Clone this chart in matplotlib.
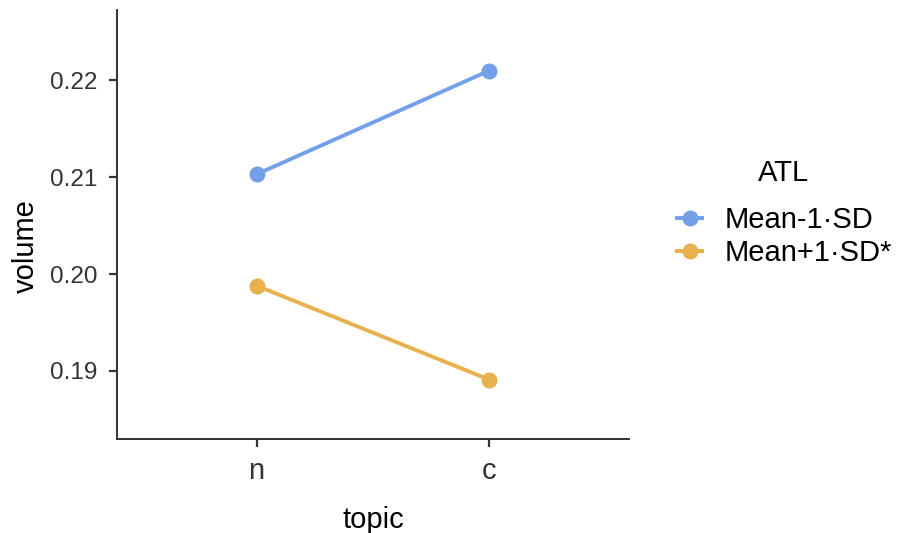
import matplotlib
matplotlib.use('Agg')
import matplotlib.pyplot as plt

# data
topics = ['n', 'c']
groups = ['Mean-1·SD', 'Mean+1·SD*']
lowATL = [0.2103, 0.2210]
highATL = [0.1988, 0.1891]
colors = ['#74A0EA', '#E9B04E']
yTicks = [0.19, 0.20, 0.21, 0.22]

plt.rcParams['font.family'] = ['Liberation Sans', 'DejaVu Sans']

fig = plt.figure(figsize=(9.02, 5.33), dpi=100)
ax = fig.add_axes([117/902, 1 - 439/533, (629 - 117)/902, (439 - 10)/533])

x = [1, 2]
for series, label, col in zip([lowATL, highATL], groups, colors):
  ax.plot(x, series, '-', color=col, linewidth=2.8, label=label,
          marker='o', markersize=11.5, markeredgewidth=0, solid_capstyle='butt')

ax.set_xlim(0.4, 2.6)
ax.set_ylim(0.18298, 0.22725)
ax.set_xticks(x)
ax.set_xticklabels(topics)
ax.set_yticks(yTicks)
ax.set_yticklabels(['%.2f' % v for v in yTicks])

for side in ['top', 'right']:
  ax.spines[side].set_visible(False)
for side in ['left', 'bottom']:
  ax.spines[side].set_color('#333333')
  ax.spines[side].set_linewidth(1.4)

ax.tick_params(axis='both', colors='#333333', length=6, width=1.6,
               labelcolor='#333333')
ax.tick_params(axis='y', labelsize=17.5, pad=8)
ax.tick_params(axis='x', labelsize=21, pad=7)

ax.set_xlabel('topic', fontsize=21, color='black', labelpad=15)
ax.set_ylabel('volume', fontsize=21, color='black')
ax.yaxis.set_label_coords(-0.15, 0.45)

leg = fig.legend(loc='upper left', bbox_to_anchor=(675/902, 1 - 159/533),
                 frameon=False, title='ATL', fontsize=21, title_fontsize=21,
                 handlelength=1.0, handletextpad=0.7, labelspacing=0.15,
                 borderpad=0, borderaxespad=0)
leg._legend_box.sep = 14

fig.savefig('out.png', dpi=100, facecolor='white')
